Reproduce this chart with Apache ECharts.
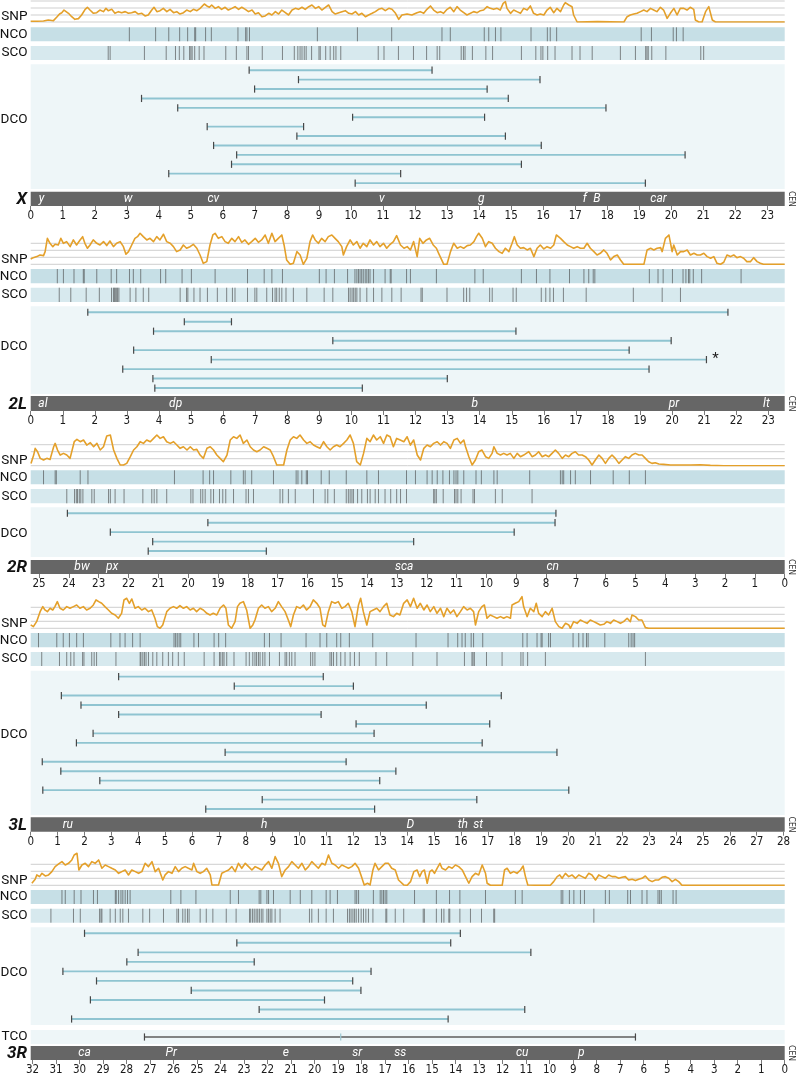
<!DOCTYPE html>
<html><head><meta charset="utf-8">
<script src="https://cdn.jsdelivr.net/npm/echarts@6/dist/echarts.min.js"></script>
<style>html,body{margin:0;padding:0;background:#fff}#c{width:797px;height:1076px}</style>
</head><body><div id="c"></div>
<script>
// ================= DATA =================
// ---- X ----
const ticksX = [0,1,2,3,4,5,6,7,8,9,10,11,12,13,14,15,16,17,18,19,20,21,22,23];
const snpX = [[0,0.1],[0.19,0.1],[0.4,0.14],[0.55,0.29],[0.71,0.19],[0.81,0.67],[0.9,1.14],[0.97,1.33],[1.04,1.71],[1.1,1.81],[1.18,1.24],[1.28,0.76],[1.38,0.38],[1.49,0.48],[1.59,1],[1.7,1.81],[1.77,2.1],[1.85,1.71],[1.96,1.24],[2.06,1.33],[2.16,1.71],[2.27,1.48],[2.35,1.95],[2.42,1.62],[2.53,1.81],[2.63,1.24],[2.74,1.48],[2.84,1.33],[2.95,1.48],[3.05,1.24],[3.15,1.33],[3.26,1.48],[3.36,1.14],[3.47,1.24],[3.57,0.86],[3.67,1],[3.78,1.71],[3.85,2.1],[3.94,1.48],[4.04,1.62],[4.14,1.95],[4.25,1.48],[4.35,1.81],[4.46,1.33],[4.56,1.48],[4.66,1.14],[4.77,1.33],[4.87,1.71],[4.98,1.48],[5.08,1.81],[5.19,1.62],[5.29,1.95],[5.34,2.1],[5.42,2.57],[5.5,2.29],[5.58,2.1],[5.65,2.43],[5.76,1.95],[5.86,2.19],[5.96,1.81],[6.07,2.1],[6.17,1.71],[6.28,1.95],[6.38,2.19],[6.49,1.81],[6.59,2.1],[6.7,1.81],[6.8,1.48],[6.91,1.71],[7.01,1.14],[7.11,1.33],[7.22,0.76],[7.32,0.86],[7.43,1.24],[7.53,1],[7.64,1.48],[7.74,1.14],[7.84,1.71],[7.95,1.33],[8.05,1],[8.16,1.71],[8.26,1.95],[8.36,1.81],[8.47,2.1],[8.57,1.81],[8.68,2.19],[8.78,2.43],[8.89,1.95],[8.99,2.19],[9.09,1.71],[9.2,2.1],[9.3,2.43],[9.41,1.48],[9.51,1.14],[9.62,1.33],[9.72,1.48],[9.82,1.62],[9.93,1.24],[10.03,1.14],[10.14,1.48],[10.24,1],[10.34,1.24],[10.45,0.76],[10.55,1],[10.66,1.24],[10.76,1.48],[10.86,1.81],[10.97,1.95],[11.07,1.62],[11.18,1.95],[11.28,1.81],[11.39,1.24],[11.49,0.38],[11.59,1],[11.75,1.14],[11.9,1],[12.06,1.33],[12.16,1.48],[12.27,1.24],[12.37,1.81],[12.48,2.29],[12.58,1.71],[12.69,1.33],[12.79,1.48],[12.89,1.24],[13,1.81],[13.1,2.1],[13.21,1.48],[13.31,2.19],[13.41,1.71],[13.52,1.33],[13.62,1],[13.73,1.24],[13.83,1.48],[13.94,1.33],[14.04,1.62],[14.14,1.71],[14.25,2.19],[14.35,1.95],[14.45,1.81],[14.56,1.95],[14.66,1.71],[14.75,2.67],[14.82,2.9],[14.87,1.95],[14.98,1.24],[15.08,1.71],[15.18,1.48],[15.29,1.24],[15.39,1.95],[15.5,1.71],[15.6,2.29],[15.7,1.24],[15.81,1],[15.91,1.14],[16.02,1],[16.12,1.71],[16.22,2.1],[16.33,1.33],[16.43,1.95],[16.54,1.48],[16.64,2.43],[16.69,2.76],[16.8,2.43],[16.9,2.19],[16.95,1],[17.06,0],[17.69,0.05],[18.52,0],[18.62,0.76],[18.72,1],[18.83,1.14],[18.93,1.24],[19.04,1.48],[19.14,1.71],[19.24,1.48],[19.35,1.95],[19.45,1.71],[19.55,1.48],[19.66,2.1],[19.76,1.71],[19.87,0.52],[19.97,1.24],[20.08,1.95],[20.18,1],[20.28,1.95],[20.39,1.95],[20.49,1.71],[20.59,2.1],[20.7,1.81],[20.75,0.29],[20.86,0],[20.96,0],[21.07,1.48],[21.17,2.19],[21.28,0.29],[21.38,0],[23.54,0]];
const ncoX = [3.08,3.90,4.31,4.65,4.90,5.12,5.15,5.46,5.64,6.47,6.71,6.75,6.83,8.95,10.20,11.27,12.84,13.10,14.16,14.30,14.51,14.68,15.62,16.13,16.22,16.42,19.06,19.38,20.06,20.16,20.37];
const scoX = [2.42,2.48,3.55,4.23,4.52,4.64,4.78,4.96,5.00,5.04,5.12,5.26,5.41,6.09,6.42,6.75,6.80,7.23,7.86,8.23,8.34,8.41,8.47,8.54,8.60,8.77,9.00,9.04,9.21,9.35,9.46,9.53,9.68,10.85,11.03,11.48,11.95,12.36,12.69,12.77,13.44,13.51,13.56,13.79,14.21,14.42,15.32,15.77,15.93,15.99,16.14,16.37,16.90,17.15,17.53,18.41,18.88,19.20,19.24,19.28,19.39,19.83,20.92,21.01];
const dcoX = [[6.82,12.53],[8.36,15.90],[6.99,14.25],[3.46,14.91],[4.59,17.96],[10.05,14.17],[5.51,8.52],[8.31,14.82],[5.71,15.94],[6.43,20.43],[6.27,15.32],[4.31,11.55],[10.13,19.19]];
const genesX = [[0.34,'y'],[3.04,'w'],[5.7,'cv'],[10.96,'v'],[14.07,'g'],[17.3,'f'],[17.68,'B'],[19.6,'car']];

// ---- 2L ----
const ticks2L = [0,1,2,3,4,5,6,7,8,9,10,11,12,13,14,15,16,17,18,19,20,21,22,23];
const snp2L = [[0,0.76],[0.08,0.95],[0.19,1.1],[0.29,1.33],[0.34,1.1],[0.4,1.24],[0.45,1.81],[0.52,3.71],[0.6,3],[0.69,2.52],[0.76,2.86],[0.86,2.76],[0.94,3.71],[1.02,3],[1.12,3.24],[1.23,2.52],[1.33,3.48],[1.43,2.76],[1.54,3.48],[1.62,3.95],[1.69,3],[1.77,2.29],[1.85,2.76],[1.95,3.48],[2.06,3],[2.16,2.76],[2.27,3.24],[2.37,2.67],[2.47,3.33],[2.58,2.52],[2.68,3],[2.79,3.24],[2.89,2.52],[2.97,1.43],[3.05,1.81],[3.15,2.76],[3.25,3.71],[3.33,3.95],[3.41,4.43],[3.51,3.95],[3.62,3.48],[3.72,3.71],[3.83,3.24],[3.93,3.95],[4.03,3.48],[4.14,4.29],[4.24,3.24],[4.35,3],[4.45,2.52],[4.55,1.81],[4.66,2.05],[4.76,2.76],[4.86,2.29],[4.97,2.52],[5.07,2.86],[5.18,2.29],[5.28,1.33],[5.38,0.14],[5.49,0.38],[5.59,2.76],[5.68,4.19],[5.75,4.43],[5.85,3.71],[5.96,3.95],[6.06,3.24],[6.16,3],[6.27,3.71],[6.37,3.24],[6.48,3.95],[6.58,3.14],[6.68,3.48],[6.79,2.86],[6.89,3.24],[7,3.71],[7.1,3.14],[7.2,3.48],[7.31,4.19],[7.41,3],[7.52,4.43],[7.62,3.24],[7.72,3.71],[7.83,4.19],[7.9,2.76],[7.98,0.62],[8.09,0],[8.19,0.14],[8.3,1.81],[8.4,1.33],[8.5,0],[8.61,0.86],[8.71,3.24],[8.79,4.19],[8.87,3.48],[8.97,3],[9.07,3.71],[9.18,3.24],[9.28,3.95],[9.39,4.19],[9.49,3.71],[9.59,3.24],[9.7,2.52],[9.75,1.33],[9.85,2.52],[9.96,3.48],[10.06,2.76],[10.17,3.24],[10.27,2.29],[10.37,3],[10.48,2.52],[10.58,3.48],[10.69,2.76],[10.79,3.24],[10.89,2.52],[11,3],[11.1,2.29],[11.21,2.86],[11.31,3.24],[11.41,4.1],[11.53,2.76],[11.64,2.29],[11.74,2.52],[11.84,2.05],[11.94,3.24],[12.05,1.1],[12.13,3.71],[12.23,3],[12.34,3.48],[12.44,3.71],[12.55,2.76],[12.65,2.29],[12.72,1.57],[12.88,0],[12.98,0],[13.09,1.81],[13.19,3],[13.3,2.29],[13.4,2.52],[13.5,2.29],[13.61,2.67],[13.71,2.76],[13.82,3.24],[13.9,3.95],[13.97,4.43],[14.08,3.71],[14.18,2.52],[14.28,3.24],[14.39,3],[14.49,2.29],[14.6,1.81],[14.7,1.57],[14.8,2.29],[14.91,1.81],[15.01,3],[15.08,3.95],[15.17,2.76],[15.27,2.29],[15.37,2.38],[15.48,2.05],[15.58,2.29],[15.69,1.1],[15.79,2.29],[15.89,2.76],[16,2.19],[16.1,2.52],[16.21,2.29],[16.31,2.76],[16.39,4.19],[16.52,3.71],[16.62,3.24],[16.73,2.76],[16.83,2.52],[16.93,2.29],[17.04,2.52],[17.14,2.29],[17.25,2.29],[17.35,3],[17.45,2.29],[17.56,1.81],[17.66,1.33],[17.76,1.57],[17.87,2.05],[17.97,1.57],[18.08,0.62],[18.18,1.1],[18.29,1.33],[18.39,0.62],[18.49,0],[19.12,0],[19.22,2.05],[19.33,2.29],[19.43,2.05],[19.53,2.29],[19.64,2.38],[19.69,1.81],[19.79,3.71],[19.9,4.19],[20,1.81],[20.05,2.76],[20.16,1.33],[20.26,1.81],[20.36,1.81],[20.47,2.05],[20.57,1.33],[20.68,1.57],[20.78,1.33],[20.88,1.33],[20.99,1.57],[21.09,1.1],[21.2,0.86],[21.3,1.1],[21.4,0.14],[21.51,0],[21.61,0.29],[21.71,1.33],[21.82,1.1],[21.92,1.33],[22.02,0.95],[22.13,1.1],[22.23,0.86],[22.33,0.38],[22.44,0.38],[22.54,0.95],[22.65,0.38],[22.75,0.14],[22.85,0],[23.51,0]];
const nco2L = [0.83,1.02,1.35,1.64,1.67,2.06,2.51,2.68,3.08,3.20,3.43,4.05,4.21,4.72,5.01,5.75,6.76,7.28,7.52,7.85,9.00,9.21,9.47,9.88,10.11,10.17,10.22,10.27,10.32,10.37,10.43,10.48,10.53,10.58,10.69,11.05,11.21,11.24,11.72,11.84,12.65,13.85,14.11,15.30,15.77,16.19,16.80,17.25,17.40,17.54,17.59,19.29,19.56,19.72,20.01,20.34,20.43,20.51,20.55,20.66,20.92,22.15];
const sco2L = [0.89,1.25,1.73,2.14,2.52,2.58,2.61,2.64,2.68,2.71,2.75,3.10,3.28,3.51,3.68,4.66,4.86,4.90,5.09,5.28,5.51,5.82,6.11,6.29,6.37,6.76,6.99,7.05,7.36,7.54,7.62,7.67,7.75,7.83,7.96,8.19,8.61,9.15,9.42,9.91,9.96,10.02,10.07,10.12,10.17,10.27,10.48,10.69,10.95,11.26,11.55,12.17,12.21,12.98,13.50,13.59,13.69,14.31,14.39,15.04,15.14,15.92,16.06,16.19,16.30,16.61,17.32,18.79,19.69,20.26];
const dco2L = [[1.78,21.74],[4.79,6.26],[3.83,15.13],[9.42,19.97],[3.21,18.66],[5.63,21.07],[2.87,19.28],[3.81,12.99],[3.87,10.34]];
const notes2L = [[21.07,6,'*']];
const genes2L = [[0.38,'al'],[4.52,'dp'],[13.85,'b'],[20.06,'pr'],[22.94,'lt']];

// ---- 2R ----
const ticks2R = [0,1,2,3,4,5,6,7,8,9,10,11,12,13,14,15,16,17,18,19,20,21,22,23,24,25];
const snp2R = [[25.27,0.33],[25.18,1.52],[25.13,2.48],[25.05,2],[24.96,1.05],[24.85,0.81],[24.74,1.05],[24.63,0.9],[24.51,2.71],[24.46,3.19],[24.38,2.24],[24.29,1.52],[24.18,1.76],[24.07,1.52],[23.96,1.05],[23.9,0.81],[23.82,3.43],[23.73,3.76],[23.62,3.43],[23.51,3.67],[23.4,2.95],[23.28,3.29],[23.17,2.71],[23.06,3.19],[22.95,2.24],[22.84,2.71],[22.73,4.24],[22.61,4.38],[22.5,2.24],[22.39,1.05],[22.28,0.1],[22.17,0.1],[22.06,0.33],[21.94,1.29],[21.83,2.24],[21.72,2.71],[21.61,3.43],[21.5,3.19],[21.39,3.67],[21.27,3.43],[21.16,3.9],[21.05,4.38],[20.94,3.9],[20.83,4.14],[20.72,3.43],[20.6,3.19],[20.49,3.43],[20.38,2.95],[20.27,2.48],[20.16,2.71],[20.04,2.24],[19.93,2.71],[19.82,2.24],[19.71,2.33],[19.6,1.52],[19.49,1.05],[19.37,2.48],[19.26,2.71],[19.15,2.24],[19.04,1.52],[18.93,1.05],[18.82,0.57],[18.7,1.52],[18.59,3.67],[18.48,4.14],[18.37,3.9],[18.26,4.38],[18.15,3.19],[18.03,3.67],[17.92,2.71],[17.81,2.24],[17.7,2],[17.59,2.24],[17.47,2.71],[17.36,2.48],[17.25,2.24],[17.14,1.29],[17.03,0.1],[16.92,0.1],[16.8,0.1],[16.69,2.24],[16.58,3.67],[16.47,4.14],[16.36,3.9],[16.25,4.38],[16.13,3.67],[16.02,3.19],[15.91,3.43],[15.8,2.95],[15.69,2.71],[15.58,2.48],[15.46,3.43],[15.35,2.71],[15.24,2.24],[15.13,2.71],[15.02,2.95],[14.91,2.71],[14.79,3.19],[14.68,3.67],[14.57,4.38],[14.46,3.19],[14.35,0.57],[14.23,0.1],[14.12,1.76],[14.01,3.9],[13.9,3.43],[13.79,4.38],[13.68,3.67],[13.56,4.14],[13.45,3.19],[13.34,4.38],[13.23,4.14],[13.12,2.71],[13.01,3.9],[12.89,3.67],[12.77,3.43],[12.66,4.14],[12.55,2.95],[12.44,3.67],[12.32,1.52],[12.21,0.81],[12.1,2.48],[11.99,2.95],[11.88,2.71],[11.77,3.19],[11.65,3.43],[11.54,2.95],[11.43,3.43],[11.32,3.19],[11.21,2.48],[11.09,3.67],[10.98,3.9],[10.87,3.19],[10.76,3.67],[10.7,2.71],[10.59,1.29],[10.48,0.1],[10.37,0.81],[10.26,2],[10.15,2.24],[10.03,1.29],[9.92,1.05],[9.81,1.76],[9.75,2.71],[9.64,1.76],[9.53,1.52],[9.42,1.76],[9.31,1.52],[9.2,1.76],[9.08,1.05],[8.97,1.76],[8.86,1.29],[8.75,1.52],[8.58,2],[8.47,1.29],[8.36,1.52],[8.25,2],[8.13,1.29],[8.02,1.52],[7.91,1.29],[7.8,1.76],[7.69,2.24],[7.58,1.76],[7.46,1.05],[7.35,1.52],[7.24,1.29],[7.13,1.76],[7.02,2],[6.91,1.52],[6.79,1.52],[6.68,1.29],[6.57,0.81],[6.46,0.1],[6.35,0.81],[6.23,1.52],[6.12,1.05],[6.01,0.33],[5.9,1.05],[5.79,1.52],[5.68,1.05],[5.56,0.33],[5.45,0.81],[5.34,1.29],[5.23,1.05],[5.12,1.52],[5.01,1.76],[4.89,1.52],[4.78,1.52],[4.67,1.05],[4.56,0.57],[4.45,0.33],[4.34,0.43],[4.22,0.24],[4.06,0.19],[3.83,0.1],[3.5,0.1],[3.16,0.1],[2.83,0.14],[2.49,0.05],[2.04,0],[0,0]];
const nco2R = [24.85,24.46,24.42,23.62,23.36,20.46,19.50,19.28,19.15,18.57,18.15,18.09,17.87,17.14,16.38,16.32,16.19,16.04,16.00,15.54,15.27,14.70,14.01,13.62,12.68,12.38,11.99,11.82,11.65,11.46,11.24,11.09,11.02,10.96,10.76,10.35,10.17,9.75,9.64,8.55,7.52,7.46,7.41,7.18,7.02,6.51,5.75,5.21,4.67];
const sco2R = [24.07,23.81,23.75,23.71,23.65,23.60,23.53,23.23,23.15,22.67,22.61,22.45,22.15,21.52,21.22,21.14,21.05,20.72,19.91,19.84,19.58,19.51,19.43,19.24,19.15,18.95,18.84,18.74,18.48,18.06,17.98,17.81,16.92,16.83,16.64,16.41,15.80,15.41,15.32,15.10,14.70,14.63,14.57,14.51,14.46,14.32,14.18,13.99,13.90,13.73,13.62,13.40,13.21,13.01,12.88,12.68,11.77,11.73,11.68,11.45,11.07,11.02,10.96,10.85,10.45,10.40,9.70,9.47,8.47];
const dco2R = [[24.05,7.67],[19.34,7.70],[22.61,9.07],[21.19,12.44],[21.34,17.38]];
const genes2R = [[23.56,'bw'],[22.55,'px'],[12.76,'sca'],[7.78,'cn']];

// ---- 3L ----
const ticks3L = [0,1,2,3,4,5,6,7,8,9,10,11,12,13,14,15,16,17,18,19,20,21,22,23,24,25,26,27,28];
const snp3L = [[0,0.48],[0.1,0.24],[0.22,0.95],[0.35,2.38],[0.45,3.1],[0.53,2.62],[0.62,2.38],[0.72,2.86],[0.82,2.62],[0.9,3.1],[0.99,3.81],[1.09,2.86],[1.21,2.62],[1.34,3.1],[1.46,2.86],[1.59,3.1],[1.71,3.33],[1.83,2.86],[1.96,3.1],[2.08,2.62],[2.21,2.86],[2.33,3.33],[2.43,4.05],[2.53,3.81],[2.64,3.57],[2.76,3.1],[2.89,2.62],[3.01,2.14],[3.14,1.9],[3.26,1.43],[3.38,2.14],[3.47,4.05],[3.57,4.29],[3.67,3.57],[3.76,4.19],[3.88,2.86],[4,3.1],[4.13,2.62],[4.25,2.86],[4.38,2.38],[4.5,2.62],[4.62,1.43],[4.71,0.24],[4.81,0],[4.91,0.48],[5.06,2.38],[5.18,2.86],[5.31,3.1],[5.43,2.86],[5.55,3.24],[5.68,2.86],[5.8,3.1],[5.93,2.62],[6.05,2.86],[6.17,2.38],[6.3,2.86],[6.42,2.62],[6.55,2.14],[6.67,1.9],[6.79,2.14],[6.92,1.9],[7.04,2.86],[7.17,3.33],[7.26,2.86],[7.35,0.48],[7.47,0],[7.6,0.95],[7.69,3.1],[7.78,3.57],[7.91,3.81],[8.03,2.62],[8.16,0],[8.26,0.48],[8.34,1.19],[8.47,2.86],[8.59,3.33],[8.71,2.86],[8.84,3.1],[8.96,2.38],[9.09,2.86],[9.21,3.81],[9.33,3.1],[9.46,2.38],[9.58,1.19],[9.67,0.24],[9.77,1.9],[9.89,3.1],[10.02,2.86],[10.14,3.33],[10.26,2.62],[10.39,3.1],[10.51,4.05],[10.64,3.57],[10.76,2.86],[10.86,0.48],[10.95,0.24],[11.07,2.38],[11.19,3.81],[11.32,3.57],[11.44,3.81],[11.57,2.86],[11.69,3.1],[11.81,3.57],[11.94,2.38],[12.06,0.24],[12.19,3.33],[12.27,4.29],[12.37,2.38],[12.5,0.48],[12.62,2.38],[12.74,2.62],[12.87,2.86],[12.99,2.38],[13.12,3.1],[13.24,3.57],[13.36,1.9],[13.49,1.67],[13.61,2.14],[13.73,1.9],[13.87,3.57],[14,4.05],[14.12,3.1],[14.24,4.29],[14.37,2.86],[14.49,3.57],[14.62,2.62],[14.74,3.33],[14.86,2.38],[14.99,3.1],[15.11,2.14],[15.24,2.86],[15.36,1.67],[15.48,2.86],[15.61,2.14],[15.73,2.62],[15.85,1.67],[15.98,2.38],[16.1,3.1],[16.23,2.62],[16.35,2.86],[16.47,2.38],[16.54,0.48],[16.66,2.38],[16.78,3.1],[16.87,3.33],[16.97,1.43],[17.09,1.9],[17.22,1.67],[17.34,1.43],[17.47,1.67],[17.59,1.43],[17.71,1.67],[17.84,1.43],[17.9,3.33],[18.02,3.57],[18.15,3.81],[18.27,4.52],[18.33,3.1],[18.46,1.67],[18.58,2.86],[18.71,2.38],[18.8,3.57],[18.89,2.14],[19.02,1.67],[19.14,2.38],[19.26,1.9],[19.39,2.86],[19.51,0.95],[19.64,0.24],[19.76,0],[19.89,0.71],[20.01,0.48],[20.07,0],[20.19,0.95],[20.32,0.71],[20.44,1.19],[20.56,0.95],[20.69,0.71],[20.81,1.19],[20.94,0.95],[21.06,0.71],[21.18,0.48],[21.31,0.57],[21.43,0.95],[21.56,0.71],[21.68,1.19],[21.81,0.95],[21.93,0.71],[22.05,0.95],[22.18,1.43],[22.3,0.95],[22.36,1.9],[22.49,1.67],[22.61,1.19],[22.73,1.19],[22.86,0.1],[22.98,0],[28.04,0]];
const nco3L = [0.29,0.97,1.21,1.44,1.71,1.96,2.98,3.32,3.51,3.79,4.07,5.33,5.39,5.45,5.52,5.58,6.07,6.24,6.82,6.99,7.25,8.69,8.88,9.31,10.24,10.76,11.01,11.38,11.53,11.85,12.72,14.33,15.52,15.88,16.04,16.16,16.38,16.47,16.81,18.30,18.46,18.83,18.98,19.02,19.26,19.33,20.17,20.38,20.54,20.67,20.73,21.35,22.24,22.33,22.40,22.46];
const sco3L = [0.41,1.07,1.34,1.49,1.61,1.93,1.98,2.27,2.36,2.45,3.17,4.07,4.10,4.17,4.23,4.29,4.38,4.54,4.69,4.91,5.12,5.28,5.49,5.71,6.45,6.82,7.02,7.07,7.14,7.19,7.29,7.56,8.01,8.13,8.26,8.34,8.40,8.47,8.53,8.63,8.71,8.88,9.25,9.46,9.52,9.62,9.71,9.83,10.41,10.49,10.57,11.13,11.19,11.26,11.38,11.53,11.69,11.88,12.04,12.22,12.84,13.24,14.21,15.11,16.13,16.41,16.45,16.50,16.95,17.53,18.23,18.31,18.48,19.14,22.86];
const dco3L = [[3.27,10.88],[7.57,12.0],[1.14,17.5],[1.87,14.71],[3.27,10.8],[12.1,17.07],[2.32,12.77],[1.70,16.79],[7.23,19.57],[0.43,11.73],[1.12,13.58],[2.57,12.98],[0.45,20.01],[8.61,16.59],[6.51,12.79]];
const genes3L = [[1.38,'ru'],[8.68,'h'],[14.12,'D'],[16.07,'th'],[16.64,'st']];

// ---- 3R ----
const ticks3R = [0,1,2,3,4,5,6,7,8,9,10,11,12,13,14,15,16,17,18,19,20,21,22,23,24,25,26,27,28,29,30,31,32];
const snp3R = [[32.03,0.29],[31.96,0.52],[31.89,0.86],[31.82,1.48],[31.7,1.24],[31.6,1.71],[31.46,1.33],[31.32,1.48],[31.18,1.95],[31.04,2.67],[30.89,3.05],[30.75,3.38],[30.61,2.9],[30.47,3.14],[30.33,3.62],[30.23,4.33],[30.11,4.57],[30.03,2.19],[29.9,2.9],[29.76,3.14],[29.62,2.67],[29.48,3.38],[29.34,3.14],[29.19,3.62],[29.05,2.43],[28.91,2.9],[28.77,2.67],[28.63,2.43],[28.48,2.19],[28.34,1.71],[28.2,1.95],[28.06,2.19],[27.92,1.48],[27.78,2.19],[27.63,1.95],[27.49,1.71],[27.35,1.95],[27.21,3.14],[27.07,2.67],[26.92,3.38],[26.78,1.95],[26.64,2.43],[26.46,0.76],[26.36,1.48],[26.22,1.95],[26.07,1.71],[25.93,2.67],[25.79,1.95],[25.65,2.43],[25.51,2.67],[25.37,2.43],[25.22,2.19],[25.15,3.14],[25.01,1.95],[24.87,1.71],[24.73,1.95],[24.59,2.43],[24.44,1.48],[24.37,0.05],[24.23,0.05],[24.09,0.05],[23.95,1.71],[23.81,1.95],[23.66,2.19],[23.52,2.67],[23.38,1.95],[23.24,3.14],[23.1,2.43],[22.95,3.14],[22.81,2.67],[22.67,2.19],[22.53,2.67],[22.39,2.43],[22.25,2.19],[22.1,2.9],[21.96,3.38],[21.82,2.43],[21.68,4.1],[21.54,3.14],[21.4,1.24],[21.25,2.19],[21.11,2.67],[20.97,3.38],[20.83,2.9],[20.69,2.43],[20.54,3.14],[20.4,2.19],[20.26,2.67],[20.12,3.38],[19.98,2.9],[19.84,2.43],[19.69,3.14],[19.55,2.9],[19.41,4.33],[19.27,3.14],[19.13,2.9],[18.98,2.43],[18.84,2.9],[18.7,2.67],[18.56,2.43],[18.42,2.67],[18.28,3.14],[18.13,2.43],[18.03,1.48],[17.89,0.05],[17.75,0.29],[17.64,0.05],[17.52,2.19],[17.43,3.14],[17.28,2.19],[17.14,2.67],[17,3.14],[16.86,3.14],[16.72,2.43],[16.57,2.19],[16.43,0.76],[16.21,0.05],[16.06,0],[15.92,0.52],[15.78,1.95],[15.64,2.19],[15.53,1.24],[15.43,1.95],[15.33,2.19],[15.21,0.29],[15.1,1.95],[15,2.19],[14.9,1.71],[14.79,2.43],[14.67,3.14],[14.58,2.43],[14.43,2.19],[14.29,2.67],[14.15,2.43],[14.01,2.9],[13.87,2.67],[13.72,2.19],[13.58,1.24],[13.44,0.29],[13.3,1.24],[13.16,1.71],[13.02,1.48],[12.87,2.9],[12.73,1.71],[12.66,0.29],[12.52,0],[12.02,0],[11.92,2.19],[11.81,2.43],[11.67,1.71],[11.53,1.95],[11.39,1.71],[11.24,2.19],[11.13,2.76],[11.03,1.24],[10.93,0.05],[10.53,0],[9.97,0],[9.83,0.52],[9.68,1.24],[9.57,1.48],[9.47,1],[9.33,1.71],[9.19,1.24],[9.05,1.48],[8.9,1],[8.76,1.48],[8.62,1.24],[8.48,1],[8.34,1.71],[8.2,1.48],[8.05,0.76],[7.91,1.48],[7.77,1.24],[7.63,1],[7.49,1.48],[7.34,1.24],[7.2,1.24],[7.06,1],[6.92,1.14],[6.78,1.24],[6.64,0.76],[6.49,0.86],[6.35,0.67],[6.21,0.86],[6.07,1],[5.93,1.33],[5.78,0.76],[5.64,0.52],[5.5,0.76],[5.36,0.76],[5.22,1.14],[5.08,1.24],[4.93,1],[4.79,0.52],[4.65,0.86],[4.51,0.52],[4.37,0],[0,0]];
const nco3R = [30.75,30.61,30.23,29.94,29.41,29.24,28.48,28.44,28.34,28.24,28.16,28.06,27.96,27.85,26.12,25.69,25.05,23.59,23.24,22.36,22.29,22.03,21.96,21.75,21.04,20.61,20.12,19.51,19.34,19.03,18.28,18.21,18.13,17.50,17.21,17.14,17.07,17.00,16.93,15.75,14.82,14.26,13.82,12.73,11.46,11.17,9.51,9.44,9.16,8.97,8.69,8.52,7.63,7.46,6.68,6.56,6.07,5.86,5.39,5.32,5.25,4.75,4.62];
const sco3R = [31.22,30.26,29.97,29.15,29.09,29.05,28.70,28.48,28.27,28.16,27.92,27.31,27.02,26.43,25.86,25.79,25.61,25.51,25.41,25.34,24.87,24.61,24.33,23.76,23.34,22.77,22.72,22.64,22.57,22.49,22.42,22.35,22.27,22.20,22.03,21.96,21.89,21.82,21.68,21.47,20.22,20.12,19.84,19.51,19.20,18.60,18.52,18.45,18.37,18.30,18.23,18.13,18.02,17.92,17.82,17.71,17.52,16.97,16.93,16.57,16.21,15.38,15.33,14.82,14.60,14.50,14.29,14.25,13.82,13.37,12.90,12.38,12.34,8.12];
const dco3R = [[29.79,13.80],[23.31,14.21],[27.51,10.80],[27.99,22.57],[30.71,17.60],[29.28,18.38],[25.25,18.03],[29.54,19.58],[22.36,11.06],[30.34,14.32]];
const tco3R = [[27.24,18.89,6.35]];
const genes3R = [[29.79,'ca'],[26.10,'Pr'],[21.23,'e'],[18.19,'sr'],[16.36,'ss'],[11.17,'cu'],[8.65,'p']];

const snpRules = [0,1,2,3];

// ================= LAYOUT / STYLE =================
const chromosomes = [
  {name:'X',  max:23.54, inverse:false, ticks:ticksX,  snp:snpX,  nco:ncoX,  sco:scoX,  dco:dcoX,  genes:genesX,  notes:[], tco:null},
  {name:'2L', max:23.51, inverse:false, ticks:ticks2L, snp:snp2L, nco:nco2L, sco:sco2L, dco:dco2L, genes:genes2L, notes:notes2L, tco:null},
  {name:'2R', max:25.28, inverse:true,  ticks:ticks2R, snp:snp2R, nco:nco2R, sco:sco2R, dco:dco2R, genes:genes2R, notes:[], tco:null},
  {name:'3L', max:28.04, inverse:false, ticks:ticks3L, snp:snp3L, nco:nco3L, sco:sco3L, dco:dco3L, genes:genes3L, notes:[], tco:null},
  {name:'3R', max:32.08, inverse:true,  ticks:ticks3R, snp:snp3R, nco:nco3R, sco:sco3R, dco:dco3R, genes:genes3R, notes:[], tco:tco3R}
];
const layout = [
  {base:22,    snpMax:22/7, nco:[27.3,41.3], sco:[46,60],     dco:[64.3,189],   tco:null,        bar:[191.7,206],   dcoLabel:119.5},
  {base:264.3, snpMax:4.7,  nco:[269,283.3], sco:[287.7,302], dco:[306.3,394],  tco:null,        bar:[396,411],     dcoLabel:346.7},
  {base:465.7, snpMax:4.7,  nco:[470.3,484.3], sco:[489,503.3], dco:[507.3,557], tco:null,       bar:[560,574],     dcoLabel:533.3},
  {base:628.3, snpMax:4.7,  nco:[633,647.3], sco:[652,666],   dco:[670.7,815],  tco:null,        bar:[817.3,831.7], dcoLabel:735},
  {base:885.3, snpMax:4.7,  nco:[890,904],   sco:[908.7,922.7], dco:[927.3,1025], tco:[1030,1044], bar:[1046,1060],  dcoLabel:972.3}
];
const PX_PER_UNIT = 7;
const LEFT = 30.7, RIGHT = 12.3;
const TXT = "Roboto, 'Noto Sans', 'Liberation Sans', sans-serif";
const NARROW = "'Liberation Sans Narrow', 'DejaVu Sans Condensed', 'Roboto Condensed', sans-serif";
const C = {snp:'#e4a02a', rule:'#cfcfcf', nco:'#c6dfe6', sco:'#d7e9ee', dco:'#eef6f8', bar:'#666666',
           tick:'rgba(70,70,70,0.62)', dcoLine:'#8fc4d1', cap:'#474747', tcoLine:'#5c5c5c', tcoMid:'#9fc9d3'};

// ================= BUILD =================
const option = {animation:false, backgroundColor:'#ffffff', grid:[], xAxis:[], yAxis:[], series:[], graphic:[]};

function addGrid(top, height, bg, chr, ymin, ymax, yInv, xAxisExtra){
  const gi = option.grid.length;
  option.grid.push({left:LEFT, right:RIGHT, top:top, height:height, show:!!bg, backgroundColor:bg||'transparent', borderWidth:0, containLabel:false});
  const xa = {type:'value', gridIndex:gi, min:0, max:chr.max, inverse:chr.inverse, show:false, splitLine:{show:false}};
  option.xAxis.push(Object.assign(xa, xAxisExtra||{}));
  option.yAxis.push({type:'value', gridIndex:gi, min:ymin, max:ymax, inverse:!!yInv, show:false, splitLine:{show:false}});
  return gi;
}

function ruleRender(params, api){
  const cs = params.coordSys;
  const y = api.coord([0, api.value(1)])[1];
  return {type:'line', shape:{x1:cs.x, y1:y, x2:cs.x+cs.width, y2:y}, style:{stroke:C.rule, lineWidth:1}};
}
function tickRender(params, api){
  const cs = params.coordSys;
  const x = api.coord([api.value(0), 0.5])[0];
  return {type:'line', shape:{x1:x, y1:cs.y, x2:x, y2:cs.y+cs.height}, style:{stroke:C.tick, lineWidth:1}};
}
function dcoRender(params, api){
  const s = api.coord([api.value(0), api.value(2)]);
  const e = api.coord([api.value(1), api.value(2)]);
  const h = 3.6;
  return {type:'group', children:[
    {type:'line', shape:{x1:s[0], y1:s[1], x2:e[0], y2:e[1]}, style:{stroke:C.dcoLine, lineWidth:1.9}},
    {type:'line', shape:{x1:s[0], y1:s[1]-h, x2:s[0], y2:s[1]+h}, style:{stroke:C.cap, lineWidth:1.2}},
    {type:'line', shape:{x1:e[0], y1:e[1]-h, x2:e[0], y2:e[1]+h}, style:{stroke:C.cap, lineWidth:1.2}}
  ]};
}
function tcoRender(params, api){
  const s = api.coord([api.value(0), 0.5]);
  const m = api.coord([api.value(1), 0.5]);
  const e = api.coord([api.value(2), 0.5]);
  const h = 3.6;
  return {type:'group', children:[
    {type:'line', shape:{x1:s[0], y1:s[1], x2:e[0], y2:e[1]}, style:{stroke:C.tcoLine, lineWidth:1.6}},
    {type:'line', shape:{x1:m[0], y1:m[1]-h, x2:m[0], y2:m[1]+h}, style:{stroke:C.tcoMid, lineWidth:1.2}},
    {type:'line', shape:{x1:s[0], y1:s[1]-h, x2:s[0], y2:s[1]+h}, style:{stroke:C.cap, lineWidth:1.2}},
    {type:'line', shape:{x1:e[0], y1:e[1]-h, x2:e[0], y2:e[1]+h}, style:{stroke:C.cap, lineWidth:1.2}}
  ]};
}
function textRender(list, font, fill, dx){
  return function(params, api){
    const p = api.coord([api.value(0), api.value(1)]);
    return {type:'text', x:p[0]+(dx||0), y:p[1], style:{text:list[params.dataIndex][2] !== undefined ? list[params.dataIndex][2] : list[params.dataIndex][1],
      font:font, fill:fill, align:'center', verticalAlign:'middle'}};
  };
}

chromosomes.forEach(function(chr, i){
  const L = layout[i];
  // SNP
  const snpH = L.snpMax * PX_PER_UNIT;
  const gSnp = addGrid(L.base - snpH, snpH, null, chr, 0, L.snpMax);
  option.series.push({type:'custom', xAxisIndex:gSnp, yAxisIndex:gSnp, silent:true, z:1,
    data:snpRules.map(function(v){return [0, v];}), renderItem:ruleRender});
  option.series.push({type:'line', xAxisIndex:gSnp, yAxisIndex:gSnp, data:chr.snp, showSymbol:false, silent:true, z:3,
    lineStyle:{color:C.snp, width:1.6, join:'round'}, itemStyle:{color:C.snp}});
  // NCO
  const gN = addGrid(L.nco[0], L.nco[1]-L.nco[0], C.nco, chr, 0, 1);
  option.series.push({type:'custom', xAxisIndex:gN, yAxisIndex:gN, silent:true,
    data:chr.nco.map(function(v){return [v, 0.5];}), renderItem:tickRender});
  // SCO
  const gS = addGrid(L.sco[0], L.sco[1]-L.sco[0], C.sco, chr, 0, 1);
  option.series.push({type:'custom', xAxisIndex:gS, yAxisIndex:gS, silent:true,
    data:chr.sco.map(function(v){return [v, 0.5];}), renderItem:tickRender});
  // DCO
  const n = chr.dco.length, pad = 0.63;
  const gD = addGrid(L.dco[0], L.dco[1]-L.dco[0], C.dco, chr, 1-pad, n+pad, true);
  option.series.push({type:'custom', xAxisIndex:gD, yAxisIndex:gD, silent:true,
    data:chr.dco.map(function(d, k){return [d[0], d[1], k+1];}), renderItem:dcoRender});
  if (chr.notes.length){
    option.series.push({type:'custom', xAxisIndex:gD, yAxisIndex:gD, silent:true,
      data:chr.notes.map(function(d){return [d[0], d[1]];}),
      renderItem:textRender(chr.notes, "15px " + TXT, '#222', 9)});
  }
  const lab = function(txt, y){
    option.graphic.push({type:'text', x:27.5, y:y, style:{text:txt, font:"13.5px " + TXT, fill:'#111', align:'right', verticalAlign:'middle'}});
  };
  // TCO
  if (chr.tco){
    const gT = addGrid(L.tco[0], L.tco[1]-L.tco[0], C.dco, chr, 0, 1);
    option.series.push({type:'custom', xAxisIndex:gT, yAxisIndex:gT, silent:true,
      data:chr.tco.map(function(d){return [d[0], d[1], d[2]];}), renderItem:tcoRender});
    lab('TCO', (L.tco[0]+L.tco[1])/2);
  }
  // Bar with gene names and axis
  const gB = addGrid(L.bar[0], L.bar[1]-L.bar[0], C.bar, chr, 0, 1, false, {
    show:true, position:'bottom',
    axisLine:{show:false},
    axisTick:{show:true, length:4, lineStyle:{color:'#7a7a7a', width:1}, customValues:chr.ticks},
    axisLabel:{show:true, customValues:chr.ticks, fontSize:11.5, color:'#1a1a1a', margin:4, fontFamily:NARROW}
  });
  option.series.push({type:'custom', xAxisIndex:gB, yAxisIndex:gB, silent:true, z:5,
    data:chr.genes.map(function(g){return [g[0], 0.5];}),
    renderItem:textRender(chr.genes.map(function(g){return [g[0], 0.5, g[1]];}), "italic 12px " + TXT, '#ffffff')});

  lab('SNP', L.base - 5);
  lab('NCO', (L.nco[0]+L.nco[1])/2);
  lab('SCO', (L.sco[0]+L.sco[1])/2);
  lab('DCO', L.dcoLabel);
  option.graphic.push({type:'text', x:27, y:(L.bar[0]+L.bar[1])/2 + 1,
    style:{text:chr.name, font:"italic bold 17px " + TXT, fill:'#111', align:'right', verticalAlign:'middle'}});
  option.graphic.push({type:'text', x:791.5, y:(L.bar[0]+L.bar[1])/2, rotation:-Math.PI/2,
    style:{text:'CEN', font:"8.5px " + NARROW, fill:'#333', align:'center', verticalAlign:'middle'}});
});

const chart = echarts.init(document.getElementById('c'), null, {renderer:'canvas', width:797, height:1076});
chart.setOption(option);
</script>
</body></html>
